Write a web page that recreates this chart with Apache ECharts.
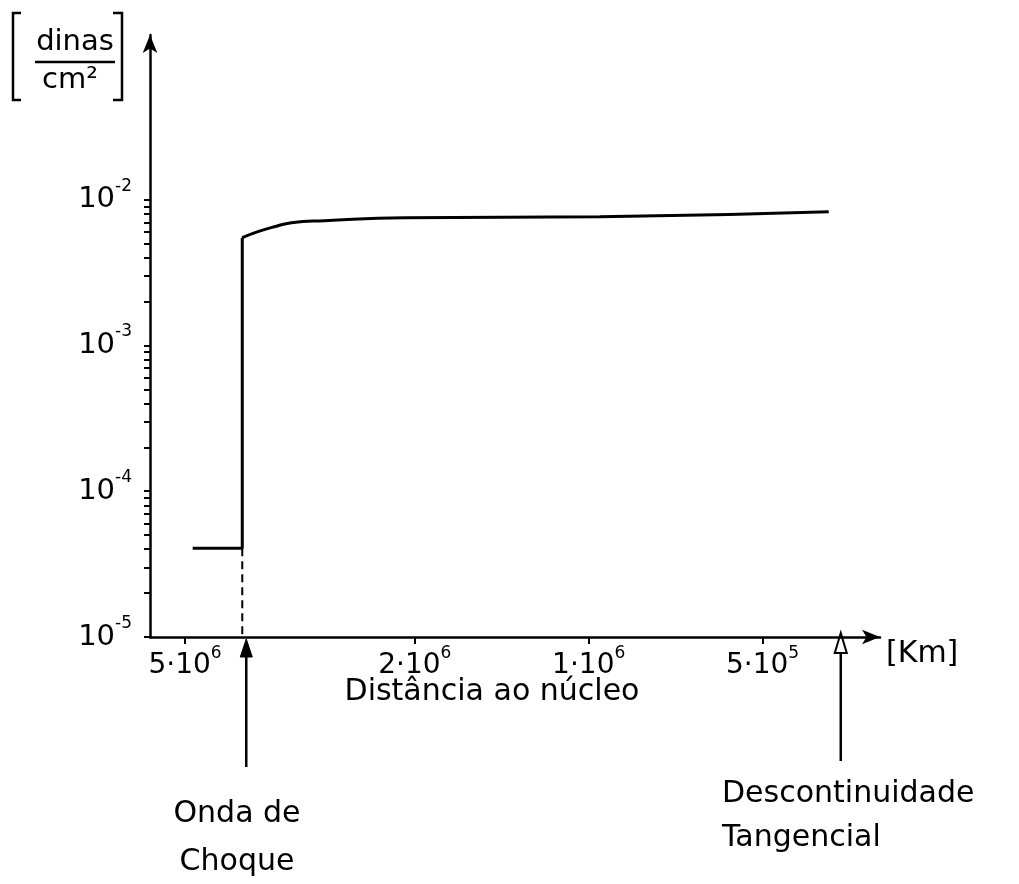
<!DOCTYPE html>
<html lang="pt">
<head>
    <meta charset="UTF-8">
    <title>Pressão x distância ao núcleo</title>
    <script src="https://cdn.jsdelivr.net/npm/echarts@6.0.0/dist/echarts.min.js"></script>
</head>
<style>
html,body{margin:0;padding:0;background-color:#ffffff}
#chartBox{width:1019px;height:884px}
</style>
<body>
    <div id="chartBox"></div>
</body>
<script>
// eixo x (km), invertido, escala log
const xMin = 3.13e5;
const xMax = 5.75e6;
const xTickValues = [5e6, 2e6, 1e6, 5e5];
const xTickBase = ['5·10', '2·10', '1·10', '5·10'];
const xTickExp = ['6', '6', '6', '5'];

// eixo y (dinas/cm2), escala log
const yMin = 1e-5;
const yMax = 0.135;
const yLabelValues = [1e-5, 1e-4, 1e-3, 1e-2];
const yLabelExp = ['-5', '-4', '-3', '-2'];

// degrau antes da onda de choque (ate o salto)
const stepX = [4.85e6, 3.98e6, 3.98e6];
const stepY = [4.07e-5, 4.07e-5, 5.49e-3];
// curva depois da onda de choque
const curveX = [3.98e6, 3.74e6, 3.5e6, 3.27e6, 2.87e6, 2.08e6, 9.57e5, 3.84e5];
const curveY = [5.49e-3, 6.04e-3, 6.53e-3, 6.95e-3, 7.18e-3, 7.53e-3, 7.65e-3, 8.28e-3];

// posicoes marcadas por setas
const shockX = 3.98e6;
const discontX = 3.66e5;

const FONT = 'DejaVu Sans';

// marcas menores do eixo y: 1..9 x 10^n
function minorTicks(){
    let out = [];
    for (let n = -5; n <= -3; n++){
        for (let k = 1; k <= 9; k++){ out.push(k * Math.pow(10, n)); }
    }
    out.push(1e-2);
    return out;
}

function closestIndex(list, v){
    let best = 0;
    list.forEach((item, i) => {
        if (Math.abs(Math.log10(item) - Math.log10(v)) < Math.abs(Math.log10(list[best]) - Math.log10(v))) best = i;
    });
    return best;
}

function generateChartOption(){
    return {
        animation: false,
        grid: {left: 150, right: 139, top: 35, bottom: 247},
        xAxis: {
            type: 'log',
            logBase: 10,
            inverse: true,
            min: xMin,
            max: xMax,
            splitLine: {show: false},
            axisLine: {
                lineStyle: {color: '#000', width: 2.5},
                symbol: ['none', 'arrow'],
                symbolSize: [11, 18]
            },
            axisTick: {
                customValues: xTickValues,
                length: 7,
                lineStyle: {color: '#000', width: 2}
            },
            axisLabel: {
                customValues: xTickValues,
                margin: 8,
                color: '#000',
                formatter: function (v) {
                    let i = closestIndex(xTickValues, v);
                    return '{b|' + xTickBase[i] + '}{s|' + xTickExp[i] + '}';
                },
                rich: {
                    b: {fontFamily: FONT, fontSize: 28, lineHeight: 42, color: '#000'},
                    s: {fontFamily: FONT, fontSize: 17, lineHeight: 20, verticalAlign: 'top', color: '#000'}
                }
            },
            // eixo invertido: 'start' fica a direita
            name: '[Km]',
            nameLocation: 'start',
            nameGap: 6,
            nameTextStyle: {fontFamily: FONT, fontSize: 30, color: '#000', verticalAlign: 'top', padding: [2, 0, 0, 0]}
        },
        yAxis: {
            type: 'log',
            logBase: 10,
            min: yMin,
            max: yMax,
            splitLine: {show: false},
            axisLine: {
                lineStyle: {color: '#000', width: 2.5},
                symbol: ['none', 'arrow'],
                symbolSize: [11, 18]
            },
            axisTick: {
                customValues: minorTicks(),
                length: 6,
                lineStyle: {color: '#000', width: 2}
            },
            axisLabel: {
                customValues: yLabelValues,
                margin: 18,
                color: '#000',
                formatter: function (v) {
                    let i = closestIndex(yLabelValues, v);
                    return '{b|10}{s|' + yLabelExp[i] + '}';
                },
                rich: {
                    b: {fontFamily: FONT, fontSize: 29, lineHeight: 44, color: '#000'},
                    s: {fontFamily: FONT, fontSize: 17, lineHeight: 20, verticalAlign: 'top', color: '#000'}
                }
            }
        },
        series: [
            {
                type: 'line',
                symbol: 'none',
                clip: false,
                lineStyle: {color: '#000', width: 3},
                data: stepX.map((x, i) => [x, stepY[i]])
            },
            {
                type: 'line',
                symbol: 'none',
                clip: false,
                smooth: 0.5,
                lineStyle: {color: '#000', width: 3},
                data: curveX.map((x, i) => [x, curveY[i]])
            },
            {
                type: 'line',
                symbol: 'none',
                clip: false,
                lineStyle: {color: '#000', width: 2, type: [8, 5]},
                data: [[shockX, stepY[1]], [shockX, yMin]]
            }
        ]
    };
}

function annotations(chartObj){
    let axisY = chartObj.convertToPixel({yAxisIndex: 0}, yMin);
    let sx = chartObj.convertToPixel({xAxisIndex: 0}, shockX);
    let dx = chartObj.convertToPixel({xAxisIndex: 0}, discontX);
    let black = {stroke: '#000', lineWidth: 2.5};
    return [
        // seta da onda de choque
        {type: 'line', shape: {x1: sx + 4, y1: axisY + 6, x2: sx + 4, y2: axisY + 130}, style: black},
        {type: 'polygon', shape: {points: [[sx + 4, axisY + 2], [sx - 2, axisY + 20], [sx + 10, axisY + 20]]}, style: {fill: '#000', stroke: '#000', lineWidth: 1}},
        // seta da descontinuidade
        {type: 'line', shape: {x1: dx, y1: axisY + 16, x2: dx, y2: axisY + 124}, style: black},
        {type: 'polygon', shape: {points: [[dx, axisY - 4], [dx - 6, axisY + 16], [dx + 6, axisY + 16]]}, style: {fill: '#fff', stroke: '#000', lineWidth: 2}},
        // textos
        {type: 'text', x: 492, y: 692, style: {text: 'Distância ao núcleo', font: '30px ' + FONT, fill: '#000', align: 'center', verticalAlign: 'middle'}},
        {type: 'text', x: 237, y: 838, style: {text: 'Onda de\nChoque', font: '30px ' + FONT, lineHeight: 48, fill: '#000', align: 'center', verticalAlign: 'middle'}},
        {type: 'text', x: 722, y: 816, style: {text: 'Descontinuidade\nTangencial', font: '30px ' + FONT, lineHeight: 44, fill: '#000', align: 'left', verticalAlign: 'middle'}},
        // unidade do eixo y
        {type: 'text', x: 75, y: 42, style: {text: 'dinas', font: '29px ' + FONT, fill: '#000', align: 'center', verticalAlign: 'middle'}},
        {type: 'line', shape: {x1: 35, y1: 62, x2: 115, y2: 62}, style: black},
        {type: 'text', x: 70, y: 80, style: {text: 'cm²', font: '29px ' + FONT, fill: '#000', align: 'center', verticalAlign: 'middle'}},
        {type: 'polyline', shape: {points: [[21, 13], [13, 13], [13, 100], [21, 100]]}, style: {stroke: '#000', lineWidth: 2.5, fill: null}},
        {type: 'polyline', shape: {points: [[113, 13], [122, 13], [122, 100], [113, 100]]}, style: {stroke: '#000', lineWidth: 2.5, fill: null}}
    ];
}

// entrada principal
let chartObj = echarts.init(document.getElementById('chartBox'));
chartObj.setOption(generateChartOption());
chartObj.setOption({graphic: annotations(chartObj)});
</script>
</html>
